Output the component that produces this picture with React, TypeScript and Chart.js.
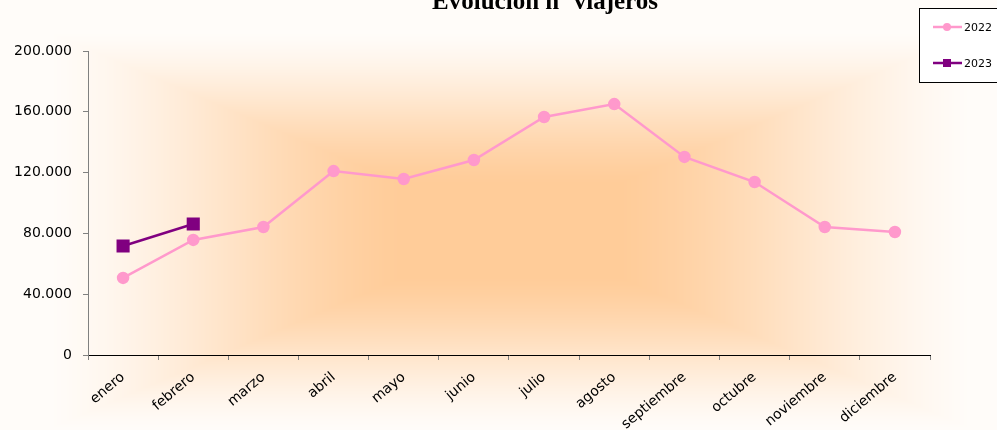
import React, { useEffect, useRef } from "react";
import { Chart, registerables } from "chart.js";

Chart.register(...registerables);

const titleText = "Evolución nº viajeros";
const months = [
  "enero", "febrero", "marzo", "abril", "mayo", "junio",
  "julio", "agosto", "septiembre", "octubre", "noviembre", "diciembre",
];
const viajeros2022 = [50700, 75700, 84200, 121000, 115800, 128300, 156600, 165100, 130300, 113800, 84200, 80900];
const viajeros2023 = [71700, 86200];
const seriesLabels = ["2022", "2023"];
const yMin = 0;
const yMax = 200000;
const yStep = 40000;

const PINK = "#FF99CC";
const PURPLE = "#800080";
const FONT = '"DejaVu Sans", sans-serif';

function fmt(v: number): string {
  return Math.round(v).toString().replace(/\B(?=(\d{3})+(?!\d))/g, ".");
}

const backgroundPlugin = {
  id: "bgGradient",
  beforeDraw(chart: any) {
    const { ctx, width, height } = chart;
    const img = ctx.createImageData(width, height);
    const cx = 510, cy = 230;
    const hw = 500, hh = 215;
    const c0 = [255, 204, 153];
    const c1 = [255, 252, 249];
    for (let y = 0; y < height; y++) {
      for (let x = 0; x < width; x++) {
        const t = Math.max(Math.abs(x - cx) / hw, Math.abs(y - cy) / hh);
        let f = (t - 0.22) / 0.7;
        f = Math.max(0, Math.min(1, f));
        f = f * f * (3 - 2 * f) * 0.5 + f * 0.5;
        const i = (y * width + x) * 4;
        img.data[i] = c0[0] + (c1[0] - c0[0]) * f;
        img.data[i + 1] = c0[1] + (c1[1] - c0[1]) * f;
        img.data[i + 2] = c0[2] + (c1[2] - c0[2]) * f;
        img.data[i + 3] = 255;
      }
    }
    ctx.putImageData(img, 0, 0);
  },
};

const overlayPlugin = {
  id: "overlay",
  afterDraw(chart: any) {
    const ctx = chart.ctx;
    ctx.save();
    // title
    ctx.font = 'bold 25px "Liberation Serif", serif';
    ctx.fillStyle = "#000";
    ctx.textAlign = "center";
    ctx.textBaseline = "alphabetic";
    ctx.fillText(titleText, 545, 9);

    // legend box
    ctx.fillStyle = "#FFFFFF";
    ctx.fillRect(919.5, 8.5, 110, 74);
    ctx.strokeStyle = "#000";
    ctx.lineWidth = 1;
    ctx.strokeRect(919.5, 8.5, 110, 74);

    const ds = chart.data.datasets;
    const rows = [27, 63];
    ds.forEach((d: any, k: number) => {
      const y = rows[k];
      ctx.strokeStyle = d.borderColor;
      ctx.lineWidth = 2.5;
      ctx.beginPath();
      ctx.moveTo(933, y);
      ctx.lineTo(962, y);
      ctx.stroke();
      ctx.fillStyle = d.pointBackgroundColor;
      if (d.pointStyle === "rect") {
        ctx.fillRect(943, y - 4, 8, 8);
      } else {
        ctx.beginPath();
        ctx.arc(947, y, 4, 0, Math.PI * 2);
        ctx.fill();
      }
      ctx.fillStyle = "#000";
      ctx.font = "11px " + FONT;
      ctx.textAlign = "left";
      ctx.textBaseline = "middle";
      ctx.fillText(d.label, 964, y + 1);
    });
    ctx.restore();
  },
};

export default function App() {
  const ref = useRef<HTMLCanvasElement | null>(null);

  useEffect(() => {
    document.body.style.margin = "0";
    if (!ref.current) return;
    const chart = new Chart(ref.current, {
      type: "line",
      data: {
        labels: months,
        datasets: [
          {
            label: seriesLabels[0],
            data: viajeros2022,
            borderColor: PINK,
            backgroundColor: PINK,
            pointBackgroundColor: PINK,
            pointBorderColor: PINK,
            pointStyle: "circle",
            pointRadius: 5,
            borderWidth: 2.5,
            tension: 0,
          },
          {
            label: seriesLabels[1],
            data: viajeros2023,
            borderColor: PURPLE,
            backgroundColor: PURPLE,
            pointBackgroundColor: PURPLE,
            pointBorderColor: PURPLE,
            pointStyle: "rect",
            pointRadius: 7.5,
            borderWidth: 2.5,
            tension: 0,
          },
        ],
      },
      options: {
        responsive: false,
        animation: false,
        layout: { padding: { top: 51, right: 67, left: 0, bottom: 0 } },
        plugins: {
          legend: { display: false },
          title: { display: false },
          tooltip: { enabled: false },
        },
        scales: {
          x: {
            offset: true,
            grid: {
              offset: true,
              drawOnChartArea: false,
              drawTicks: true,
              tickLength: 5,
              color: "#808080",
            },
            border: { color: "#000", width: 1 },
            ticks: {
              color: "#000",
              font: { family: FONT, size: 14 },
              minRotation: 40,
              maxRotation: 40,
              autoSkip: false,
              padding: 9,
            },
            afterFit(scale: any) {
              scale.height = 75;
            },
          },
          y: {
            min: yMin,
            max: yMax,
            grid: {
              drawOnChartArea: false,
              drawTicks: true,
              tickLength: 5,
              color: "#808080",
            },
            border: { color: "#808080", width: 1 },
            ticks: {
              stepSize: yStep,
              color: "#000",
              font: { family: FONT, size: 14 },
              padding: 11,
              callback: (v: any) => fmt(Number(v)),
            },
            afterFit(scale: any) {
              scale.width = 88;
            },
          },
        },
      },
      plugins: [backgroundPlugin, overlayPlugin],
    });
    return () => chart.destroy();
  }, []);

  return <canvas ref={ref} width={997} height={430} style={{ display: "block" }} />;
}
